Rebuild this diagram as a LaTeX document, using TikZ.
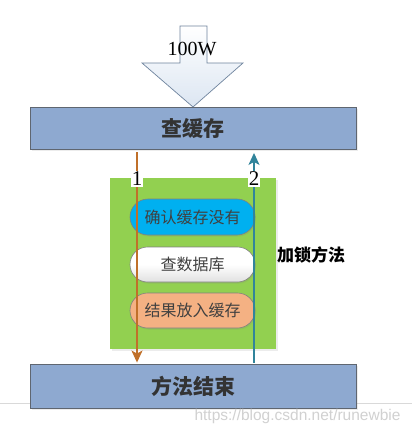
\documentclass[tikz,border=0pt]{standalone}
\usepackage{fontspec}
\setmainfont{Liberation Serif}
\newfontfamily\cjk{Noto Sans CJK SC}
\newfontfamily\wmfont{Liberation Sans}
\usetikzlibrary{arrows.meta,shapes.misc,shadows}
\definecolor{boxblue}{HTML}{8EA9D0}
\definecolor{boxedge}{HTML}{5F6670}
\definecolor{lockgreen}{HTML}{92D050}
\definecolor{pillcyan}{HTML}{00B0F0}
\definecolor{pillsalmon}{HTML}{F4B183}
\definecolor{lineorange}{HTML}{C0702A}
\definecolor{lineteal}{HTML}{31849B}
\definecolor{arrowedge}{HTML}{6F849E}
\definecolor{arrowfill}{HTML}{DCE6F2}
\tikzset{
  bigbox/.style={draw=boxedge, line width=0.9pt, fill=boxblue, minimum width=326pt,
    inner sep=0pt, font=\cjk\fontsize{21}{21}\selectfont\bfseries, text=black!80,
    drop shadow={shadow xshift=1.5pt, shadow yshift=-1.5pt, opacity=0.15}},
  pill/.style={rounded rectangle, draw=black!50, line width=0.6pt, minimum width=125pt,
    minimum height=35pt, inner sep=0pt, font=\cjk\fontsize{16}{16}\selectfont, text=black!75,
    drop shadow={shadow xshift=1pt, shadow yshift=-1.5pt, opacity=0.2}},
  numlabel/.style={fill=white, inner sep=1pt, minimum width=12pt, font=\fontsize{21}{21}\selectfont},
  flowline/.style={line width=1.4pt, -{Stealth[length=12pt, width=11pt, inset=3pt]}}
}
\begin{document}
\begin{tikzpicture}[x=1pt, y=-1pt]
\useasboundingbox (0,0) rectangle (412,434);
\fill[white] (0,0) rectangle (412,434);
% baseline divider
\coordinate (ll) at (0,403);
\coordinate (lr) at (412,403);
\draw[black!15, line width=0.8pt] (ll) -- (lr);
% big down arrow
\draw[draw=arrowedge, line width=0.7pt, top color=white, bottom color=arrowfill]
  (180,26) -- (207,26) -- (207,63) -- (243,63) -- (193,107) -- (142,63) -- (180,63) -- cycle;
\node (vol) at (192,49) {\fontsize{20}{20}\selectfont 100W};
% boxes
\node[bigbox, minimum height=42pt] (top) at (193,128) {查缓存};
\node[draw=none, fill=lockgreen, minimum width=166pt, minimum height=171pt, inner sep=0pt,
  drop shadow={shadow xshift=1.5pt, shadow yshift=-1.5pt, opacity=0.15}] (lock) at (193,263.5) {};
\node[bigbox, minimum height=44pt] (bot) at (193,386) {方法结束};
% pills
\node[pill, fill=pillcyan, minimum height=36pt] (p1) at (192.5,217) {确认缓存没有};
\node[pill, top color=white, bottom color=black!12, middle color=white] (p2) at (192.5,264.5) {查数据库};
\node[pill, fill=pillsalmon] (p3) at (192.5,310.5) {结果放入缓存};
\node[font=\cjk\fontsize{17}{17}\selectfont\bfseries, text=black] (locklabel) at (311,255) {加锁方法};
% flow lines
\coordinate (c1) at (137,0);
\coordinate (c2) at (254,0);
\draw[flowline, lineorange, shorten <=3pt, shorten >=1pt] (top.south -| c1) -- (bot.north -| c1);
\draw[flowline, lineteal, shorten <=1pt, shorten >=3.5pt] (bot.north -| c2) -- (top.south -| c2);
\node[numlabel] (n1) at (137,179) {1};
\node[numlabel] (n2) at (254,179) {2};
% watermark
\node[font=\wmfont\fontsize{15.5}{15.5}\selectfont, text=black!18] (wm) at (297.5,416) {https://blog.csdn.net/runewbie};
\end{tikzpicture}
\end{document}
